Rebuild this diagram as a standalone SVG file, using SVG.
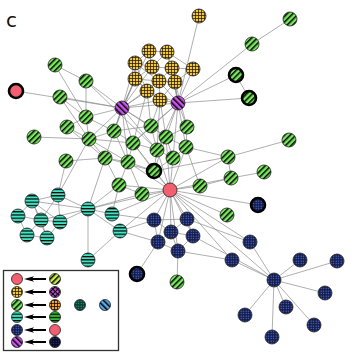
<svg xmlns="http://www.w3.org/2000/svg" xmlns:xlink="http://www.w3.org/1999/xlink" width="354" height="354" viewBox="0 0 354 354">
<defs>
<pattern id="pg" width="4" height="4" patternUnits="userSpaceOnUse" patternTransform="rotate(45)"><rect width="4" height="4" fill="#76e85a"/><rect width="1.5" height="4" fill="#000"/></pattern>
<pattern id="pm" width="4" height="4" patternUnits="userSpaceOnUse" patternTransform="rotate(-45)"><rect width="4" height="4" fill="#cc55ee"/><rect width="1.5" height="4" fill="#000"/></pattern>
<pattern id="py" width="3" height="3" patternUnits="userSpaceOnUse"><rect width="3" height="3" fill="#f2c640"/><path d="M0,0.4H3M0.4,0V3" stroke="#1a1400" stroke-width="0.8"/></pattern>
<pattern id="pt" width="3" height="3.2" patternUnits="userSpaceOnUse"><rect width="3" height="3.2" fill="#44e4c2"/><rect width="3" height="1.2" fill="#000"/></pattern>
<pattern id="pn" width="2.5" height="2.5" patternUnits="userSpaceOnUse"><rect width="2.5" height="2.5" fill="#131b4a"/><rect x="0.6" y="0.6" width="1.1" height="1.1" fill="#6080ea"/></pattern>
<pattern id="pl" width="4" height="4" patternUnits="userSpaceOnUse" patternTransform="rotate(45)"><rect width="4" height="4" fill="#ccee44"/><rect width="1.5" height="4" fill="#000"/></pattern>
<pattern id="pd" width="3.4" height="3.4" patternUnits="userSpaceOnUse" patternTransform="rotate(45)"><rect width="3.4" height="3.4" fill="#cc44dd"/><path d="M0,0.5H3.4M0.5,0V3.4" stroke="#000" stroke-width="1"/></pattern>
<pattern id="po" width="3" height="3" patternUnits="userSpaceOnUse"><rect width="3" height="3" fill="#f5a030"/><path d="M0,0.4H3M0.4,0V3" stroke="#000" stroke-width="0.8"/></pattern>
<pattern id="ph" width="3" height="3.2" patternUnits="userSpaceOnUse"><rect width="3" height="3.2" fill="#33bb33"/><rect width="3" height="1.2" fill="#000"/></pattern>
<pattern id="pk" width="2.5" height="2.5" patternUnits="userSpaceOnUse"><rect width="2.5" height="2.5" fill="#08081e"/><rect x="0.6" y="0.6" width="1.1" height="1.1" fill="#34449a"/></pattern>
<pattern id="pe" width="2.5" height="2.5" patternUnits="userSpaceOnUse"><rect width="2.5" height="2.5" fill="#083a30"/><rect x="0.6" y="0.6" width="1.1" height="1.1" fill="#3cb090"/></pattern>
<pattern id="pb" width="4" height="4" patternUnits="userSpaceOnUse" patternTransform="rotate(-45)"><rect width="4" height="4" fill="#55aaee"/><rect width="1.5" height="4" fill="#000"/></pattern>
<path id="arr" d="M0,0 L10,-2.8 L8.5,-0.9 L22,-0.9 L22,0.9 L8.5,0.9 L10,2.8 Z" fill="#000"/>
</defs>
<style>
.e line{stroke:#8c8c8c;stroke-width:0.7}
circle{stroke:#222;stroke-width:0.8}
.k circle{stroke:#000;stroke-width:2.6}
.g circle{fill:url(#pg)}
.m circle{fill:url(#pm)}
.y circle{fill:url(#py)}
.t circle{fill:url(#pt)}
.n circle{fill:url(#pn)}
.r circle{fill:#f25f70}
text{font-family:"DejaVu Sans",sans-serif}
</style>
<rect width="354" height="354" fill="#fff"/>
<text x="6" y="27" font-size="20" fill="#111">c</text>
<g id="edges" class="e">
<line x1="149" y1="51" x2="167" y2="52"/><line x1="149" y1="51" x2="135" y2="63"/><line x1="149" y1="51" x2="152" y2="67"/><line x1="167" y1="52" x2="152" y2="67"/><line x1="167" y1="52" x2="172" y2="68"/><line x1="135" y1="63" x2="152" y2="67"/><line x1="135" y1="63" x2="135" y2="79"/><line x1="152" y1="67" x2="172" y2="68"/><line x1="152" y1="67" x2="159" y2="81"/><line x1="172" y1="68" x2="193" y2="69"/><line x1="172" y1="68" x2="175" y2="82"/><line x1="135" y1="79" x2="159" y2="81"/><line x1="135" y1="79" x2="147" y2="91"/><line x1="159" y1="81" x2="175" y2="82"/><line x1="159" y1="81" x2="147" y2="91"/><line x1="159" y1="81" x2="160" y2="100"/><line x1="175" y1="82" x2="160" y2="100"/><line x1="147" y1="91" x2="160" y2="100"/><line x1="135" y1="63" x2="159" y2="81"/><line x1="152" y1="67" x2="135" y2="79"/><line x1="172" y1="68" x2="159" y2="81"/><line x1="193" y1="69" x2="175" y2="82"/><line x1="167" y1="52" x2="193" y2="69"/><line x1="135" y1="79" x2="160" y2="100"/><line x1="135" y1="63" x2="147" y2="91"/>
<line x1="122" y1="108" x2="135" y2="63"/><line x1="122" y1="108" x2="135" y2="79"/><line x1="122" y1="108" x2="147" y2="91"/><line x1="122" y1="108" x2="149" y2="51"/><line x1="122" y1="108" x2="160" y2="100"/><line x1="122" y1="108" x2="152" y2="67"/><line x1="122" y1="108" x2="159" y2="81"/><line x1="178" y1="103" x2="160" y2="100"/><line x1="178" y1="103" x2="175" y2="82"/><line x1="178" y1="103" x2="193" y2="69"/><line x1="178" y1="103" x2="172" y2="68"/><line x1="178" y1="103" x2="159" y2="81"/><line x1="178" y1="103" x2="199" y2="16"/><line x1="178" y1="103" x2="167" y2="52"/><line x1="178" y1="103" x2="147" y2="91"/><line x1="122" y1="108" x2="178" y2="103"/>
<line x1="178" y1="103" x2="236" y2="75"/><line x1="178" y1="103" x2="249" y2="98"/><line x1="178" y1="103" x2="252" y2="44"/><line x1="178" y1="103" x2="187" y2="127"/><line x1="178" y1="103" x2="186" y2="147"/><line x1="178" y1="103" x2="166" y2="137"/><line x1="178" y1="103" x2="151" y2="126"/><line x1="178" y1="103" x2="157" y2="150"/><line x1="178" y1="103" x2="173" y2="158"/><line x1="178" y1="103" x2="133" y2="143"/><line x1="252" y1="44" x2="290" y2="19"/><line x1="236" y1="75" x2="249" y2="98"/>
<line x1="122" y1="108" x2="16" y2="91"/><line x1="122" y1="108" x2="86" y2="81"/><line x1="122" y1="108" x2="60" y2="97"/><line x1="122" y1="108" x2="86" y2="117"/><line x1="122" y1="108" x2="114" y2="131"/><line x1="122" y1="108" x2="151" y2="126"/><line x1="122" y1="108" x2="133" y2="143"/><line x1="122" y1="108" x2="89" y2="139"/><line x1="122" y1="108" x2="105" y2="158"/><line x1="122" y1="108" x2="157" y2="150"/><line x1="122" y1="108" x2="128" y2="162"/><line x1="122" y1="108" x2="166" y2="137"/>
<line x1="160" y1="100" x2="151" y2="126"/><line x1="147" y1="91" x2="151" y2="126"/><line x1="160" y1="100" x2="166" y2="137"/><line x1="175" y1="82" x2="187" y2="127"/><line x1="160" y1="100" x2="157" y2="150"/><line x1="135" y1="79" x2="114" y2="131"/><line x1="147" y1="91" x2="133" y2="143"/>
<line x1="55" y1="65" x2="86" y2="81"/><line x1="55" y1="65" x2="86" y2="117"/><line x1="86" y1="81" x2="86" y2="117"/><line x1="86" y1="81" x2="157" y2="150"/><line x1="60" y1="97" x2="86" y2="117"/><line x1="60" y1="97" x2="89" y2="139"/><line x1="86" y1="117" x2="67" y2="127"/><line x1="86" y1="117" x2="89" y2="139"/><line x1="86" y1="117" x2="114" y2="131"/><line x1="67" y1="127" x2="89" y2="139"/><line x1="67" y1="127" x2="105" y2="158"/><line x1="34" y1="137" x2="89" y2="139"/><line x1="89" y1="139" x2="114" y2="131"/><line x1="89" y1="139" x2="133" y2="143"/><line x1="89" y1="139" x2="105" y2="158"/><line x1="89" y1="139" x2="128" y2="162"/><line x1="114" y1="131" x2="133" y2="143"/><line x1="114" y1="131" x2="151" y2="126"/><line x1="114" y1="131" x2="128" y2="162"/><line x1="151" y1="126" x2="166" y2="137"/><line x1="151" y1="126" x2="133" y2="143"/><line x1="151" y1="126" x2="157" y2="150"/><line x1="187" y1="127" x2="166" y2="137"/><line x1="187" y1="127" x2="186" y2="147"/><line x1="166" y1="137" x2="186" y2="147"/><line x1="166" y1="137" x2="157" y2="150"/><line x1="133" y1="143" x2="157" y2="150"/><line x1="133" y1="143" x2="128" y2="162"/><line x1="157" y1="150" x2="173" y2="158"/><line x1="186" y1="147" x2="173" y2="158"/><line x1="66" y1="161" x2="105" y2="158"/><line x1="105" y1="158" x2="128" y2="162"/><line x1="105" y1="158" x2="119" y2="185"/><line x1="128" y1="162" x2="119" y2="185"/><line x1="128" y1="162" x2="154" y2="171"/><line x1="157" y1="150" x2="154" y2="171"/><line x1="173" y1="158" x2="154" y2="171"/><line x1="128" y1="162" x2="142" y2="194"/><line x1="119" y1="185" x2="142" y2="194"/><line x1="166" y1="137" x2="173" y2="158"/><line x1="133" y1="143" x2="154" y2="171"/><line x1="105" y1="158" x2="154" y2="171"/><line x1="166" y1="137" x2="154" y2="171"/><line x1="186" y1="147" x2="200" y2="186"/>
<line x1="154" y1="171" x2="170" y2="190"/><line x1="173" y1="158" x2="170" y2="190"/><line x1="157" y1="150" x2="170" y2="190"/><line x1="186" y1="147" x2="170" y2="190"/><line x1="142" y1="194" x2="170" y2="190"/><line x1="119" y1="185" x2="170" y2="190"/><line x1="200" y1="186" x2="170" y2="190"/><line x1="228" y1="157" x2="170" y2="190"/><line x1="231" y1="178" x2="170" y2="190"/><line x1="128" y1="162" x2="170" y2="190"/><line x1="166" y1="137" x2="170" y2="190"/><line x1="133" y1="143" x2="170" y2="190"/>
<line x1="228" y1="157" x2="154" y2="171"/><line x1="228" y1="157" x2="289" y2="140"/><line x1="228" y1="157" x2="231" y2="178"/><line x1="231" y1="178" x2="264" y2="172"/><line x1="200" y1="186" x2="231" y2="178"/><line x1="186" y1="147" x2="228" y2="157"/>
<line x1="170" y1="190" x2="258" y2="205"/><line x1="170" y1="190" x2="227" y2="215"/><line x1="170" y1="190" x2="154" y2="220"/><line x1="170" y1="190" x2="187" y2="219"/><line x1="170" y1="190" x2="171" y2="232"/><line x1="170" y1="190" x2="193" y2="236"/><line x1="170" y1="190" x2="158" y2="242"/><line x1="170" y1="190" x2="178" y2="251"/><line x1="170" y1="190" x2="250" y2="242"/><line x1="170" y1="190" x2="232" y2="260"/><line x1="170" y1="190" x2="274" y2="280"/><line x1="170" y1="190" x2="120" y2="231"/><line x1="170" y1="190" x2="112" y2="214"/><line x1="170" y1="190" x2="88" y2="209"/>
<line x1="154" y1="220" x2="171" y2="232"/><line x1="154" y1="220" x2="158" y2="242"/><line x1="187" y1="219" x2="171" y2="232"/><line x1="187" y1="219" x2="193" y2="236"/><line x1="171" y1="232" x2="178" y2="251"/><line x1="158" y1="242" x2="178" y2="251"/><line x1="193" y1="236" x2="178" y2="251"/><line x1="171" y1="232" x2="158" y2="242"/><line x1="171" y1="232" x2="193" y2="236"/><line x1="154" y1="220" x2="187" y2="219"/><line x1="154" y1="220" x2="120" y2="231"/><line x1="120" y1="231" x2="158" y2="242"/><line x1="137" y1="274" x2="158" y2="242"/><line x1="177" y1="282" x2="178" y2="251"/><line x1="178" y1="251" x2="232" y2="260"/>
<line x1="250" y1="242" x2="274" y2="280"/><line x1="232" y1="260" x2="274" y2="280"/><line x1="274" y1="280" x2="300" y2="260"/><line x1="274" y1="280" x2="337" y2="261"/><line x1="274" y1="280" x2="325" y2="293"/><line x1="274" y1="280" x2="286" y2="307"/><line x1="274" y1="280" x2="245" y2="315"/><line x1="274" y1="280" x2="314" y2="325"/><line x1="274" y1="280" x2="272" y2="337"/><line x1="187" y1="219" x2="250" y2="242"/><line x1="193" y1="236" x2="274" y2="280"/>
<line x1="32" y1="201" x2="58" y2="195"/><line x1="32" y1="201" x2="18" y2="216"/><line x1="32" y1="201" x2="41" y2="220"/><line x1="32" y1="201" x2="60" y2="222"/><line x1="58" y1="195" x2="41" y2="220"/><line x1="58" y1="195" x2="60" y2="222"/><line x1="18" y1="216" x2="41" y2="220"/><line x1="18" y1="216" x2="27" y2="235"/><line x1="41" y1="220" x2="60" y2="222"/><line x1="41" y1="220" x2="27" y2="235"/><line x1="41" y1="220" x2="47" y2="238"/><line x1="60" y1="222" x2="47" y2="238"/><line x1="27" y1="235" x2="47" y2="238"/><line x1="32" y1="201" x2="47" y2="238"/><line x1="58" y1="195" x2="88" y2="209"/><line x1="60" y1="222" x2="88" y2="209"/><line x1="41" y1="220" x2="88" y2="209"/><line x1="32" y1="201" x2="88" y2="209"/><line x1="88" y1="209" x2="112" y2="214"/><line x1="88" y1="209" x2="120" y2="231"/><line x1="88" y1="209" x2="88" y2="260"/><line x1="88" y1="260" x2="120" y2="231"/><line x1="88" y1="209" x2="105" y2="158"/><line x1="88" y1="209" x2="119" y2="185"/><line x1="88" y1="209" x2="142" y2="194"/><line x1="58" y1="195" x2="89" y2="139"/><line x1="58" y1="195" x2="66" y2="161"/><line x1="112" y1="214" x2="119" y2="185"/><line x1="112" y1="214" x2="154" y2="220"/>
</g>
<g id="n_Y1" class="y"><circle cx="199" cy="16" r="7"/></g>
<g id="n_Y2" class="y"><circle cx="149" cy="51" r="7"/></g>
<g id="n_Y3" class="y"><circle cx="167" cy="52" r="7"/></g>
<g id="n_Y4" class="y"><circle cx="135" cy="63" r="7"/></g>
<g id="n_Y5" class="y"><circle cx="152" cy="67" r="7"/></g>
<g id="n_Y6" class="y"><circle cx="172" cy="68" r="7"/></g>
<g id="n_Y7" class="y"><circle cx="193" cy="69" r="7"/></g>
<g id="n_Y8" class="y"><circle cx="135" cy="79" r="7"/></g>
<g id="n_Y9" class="y"><circle cx="159" cy="81" r="7"/></g>
<g id="n_Y10" class="y"><circle cx="175" cy="82" r="7"/></g>
<g id="n_Y11" class="y"><circle cx="147" cy="91" r="7"/></g>
<g id="n_Y12" class="y"><circle cx="160" cy="100" r="7"/></g>
<g id="n_M1" class="m"><circle cx="122" cy="108" r="7"/></g>
<g id="n_M2" class="m"><circle cx="178" cy="103" r="7"/></g>
<g id="n_R1" class="r k"><circle cx="16" cy="91" r="7"/></g>
<g id="n_R2" class="r"><circle cx="170" cy="190" r="7"/></g>
<g id="n_G1" class="g"><circle cx="55" cy="65" r="7"/></g>
<g id="n_G2" class="g"><circle cx="86" cy="81" r="7"/></g>
<g id="n_G3" class="g"><circle cx="60" cy="97" r="7"/></g>
<g id="n_G4" class="g"><circle cx="86" cy="117" r="7"/></g>
<g id="n_G5" class="g"><circle cx="67" cy="127" r="7"/></g>
<g id="n_G6" class="g"><circle cx="34" cy="137" r="7"/></g>
<g id="n_G7" class="g"><circle cx="89" cy="139" r="7"/></g>
<g id="n_G8" class="g"><circle cx="114" cy="131" r="7"/></g>
<g id="n_G9" class="g"><circle cx="151" cy="126" r="7"/></g>
<g id="n_G10" class="g"><circle cx="187" cy="127" r="7"/></g>
<g id="n_G11" class="g"><circle cx="133" cy="143" r="7"/></g>
<g id="n_G12" class="g"><circle cx="166" cy="137" r="7"/></g>
<g id="n_G13" class="g"><circle cx="186" cy="147" r="7"/></g>
<g id="n_G14" class="g"><circle cx="157" cy="150" r="7"/></g>
<g id="n_G15" class="g"><circle cx="66" cy="161" r="7"/></g>
<g id="n_G16" class="g"><circle cx="105" cy="158" r="7"/></g>
<g id="n_G17" class="g"><circle cx="128" cy="162" r="7"/></g>
<g id="n_G18" class="g"><circle cx="173" cy="158" r="7"/></g>
<g id="n_G19" class="g"><circle cx="119" cy="185" r="7"/></g>
<g id="n_G20" class="g"><circle cx="142" cy="194" r="7"/></g>
<g id="n_G21" class="g"><circle cx="200" cy="186" r="7"/></g>
<g id="n_G22" class="g"><circle cx="228" cy="157" r="7"/></g>
<g id="n_G23" class="g"><circle cx="231" cy="178" r="7"/></g>
<g id="n_G24" class="g"><circle cx="264" cy="172" r="7"/></g>
<g id="n_G25" class="g"><circle cx="289" cy="140" r="7"/></g>
<g id="n_G26" class="g"><circle cx="252" cy="44" r="7"/></g>
<g id="n_G27" class="g"><circle cx="290" cy="19" r="7"/></g>
<g id="n_G28" class="g"><circle cx="227" cy="215" r="7"/></g>
<g id="n_G29" class="g"><circle cx="177" cy="282" r="7"/></g>
<g id="n_GK1" class="g k"><circle cx="236" cy="75" r="7"/></g>
<g id="n_GK2" class="g k"><circle cx="249" cy="98" r="7"/></g>
<g id="n_GK3" class="g k"><circle cx="154" cy="171" r="7"/></g>
<g id="n_T1" class="t"><circle cx="32" cy="201" r="7"/></g>
<g id="n_T2" class="t"><circle cx="58" cy="195" r="7"/></g>
<g id="n_T3" class="t"><circle cx="18" cy="216" r="7"/></g>
<g id="n_T4" class="t"><circle cx="41" cy="220" r="7"/></g>
<g id="n_T5" class="t"><circle cx="60" cy="222" r="7"/></g>
<g id="n_T6" class="t"><circle cx="27" cy="235" r="7"/></g>
<g id="n_T7" class="t"><circle cx="47" cy="238" r="7"/></g>
<g id="n_T8" class="t"><circle cx="88" cy="209" r="7"/></g>
<g id="n_T9" class="t"><circle cx="112" cy="214" r="7"/></g>
<g id="n_T10" class="t"><circle cx="120" cy="231" r="7"/></g>
<g id="n_T11" class="t"><circle cx="88" cy="260" r="7"/></g>
<g id="n_N1" class="n"><circle cx="154" cy="220" r="7"/></g>
<g id="n_N2" class="n"><circle cx="187" cy="219" r="7"/></g>
<g id="n_N3" class="n"><circle cx="171" cy="232" r="7"/></g>
<g id="n_N4" class="n"><circle cx="193" cy="236" r="7"/></g>
<g id="n_N5" class="n"><circle cx="158" cy="242" r="7"/></g>
<g id="n_N6" class="n"><circle cx="178" cy="251" r="7"/></g>
<g id="n_N7" class="n"><circle cx="250" cy="242" r="7"/></g>
<g id="n_N8" class="n"><circle cx="232" cy="260" r="7"/></g>
<g id="n_N9" class="n"><circle cx="274" cy="280" r="7"/></g>
<g id="n_N10" class="n"><circle cx="300" cy="260" r="7"/></g>
<g id="n_N11" class="n"><circle cx="337" cy="261" r="7"/></g>
<g id="n_N12" class="n"><circle cx="325" cy="293" r="7"/></g>
<g id="n_N13" class="n"><circle cx="286" cy="307" r="7"/></g>
<g id="n_N14" class="n"><circle cx="245" cy="315" r="7"/></g>
<g id="n_N15" class="n"><circle cx="314" cy="325" r="7"/></g>
<g id="n_N16" class="n"><circle cx="272" cy="337" r="7"/></g>
<g id="n_NK1" class="n k"><circle cx="137" cy="274" r="7"/></g>
<g id="n_NK2" class="n k"><circle cx="258" cy="205" r="7"/></g>
<g id="legend">
<rect x="3.5" y="270.5" width="115" height="80" fill="#fff" stroke="#333" stroke-width="1.3"/>
<g id="lg1"><circle cx="17" cy="279" r="5.5" fill="#f25f70"/><use xlink:href="#arr" x="24" y="279"/><circle cx="55" cy="279" r="5.5" fill="url(#pl)"/></g>
<g id="lg2"><circle cx="17" cy="292" r="5.5" fill="url(#py)"/><use xlink:href="#arr" x="24" y="292"/><circle cx="55" cy="292" r="5.5" fill="url(#pd)"/></g>
<g id="lg3"><circle cx="17" cy="305" r="5.5" fill="url(#pg)"/><use xlink:href="#arr" x="24" y="305"/><circle cx="55" cy="305" r="5.5" fill="url(#po)"/><circle cx="80" cy="305" r="5.5" fill="url(#pe)"/><circle cx="105" cy="305" r="5.5" fill="url(#pb)"/></g>
<g id="lg4"><circle cx="17" cy="317" r="5.5" fill="url(#pt)"/><use xlink:href="#arr" x="24" y="317"/><circle cx="55" cy="317" r="5.5" fill="url(#ph)"/></g>
<g id="lg5"><circle cx="17" cy="330" r="5.5" fill="url(#pn)"/><use xlink:href="#arr" x="24" y="330"/><circle cx="55" cy="330" r="5.5" fill="#f25f70"/></g>
<g id="lg6"><circle cx="17" cy="342" r="5.5" fill="url(#pm)"/><use xlink:href="#arr" x="24" y="342"/><circle cx="55" cy="342" r="5.5" fill="url(#pk)"/></g>
</g>
</svg>
